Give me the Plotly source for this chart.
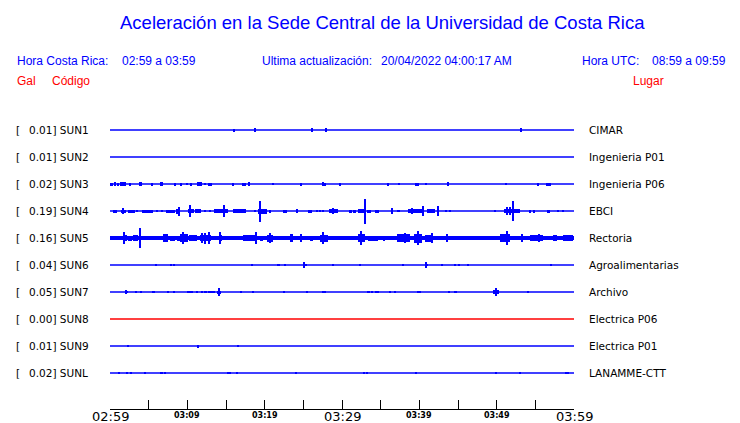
import plotly.graph_objects as go

# ---------------- data ----------------
STATIONS = ["SUN1", "SUN2", "SUN3", "SUN4", "SUN5", "SUN6", "SUN7", "SUN8", "SUN9", "SUNL"]
PEAK_GAL = ["0.01", "0.01", "0.02", "0.19", "0.16", "0.04", "0.05", "0.00", "0.01", "0.02"]
PLACES = ["CIMAR", "Ingenieria P01", "Ingenieria P06", "EBCI", "Rectoria",
          "Agroalimentarias", "Archivo", "Electrica P06", "Electrica P01", "LANAMME-CTT"]
WINDOW_MINUTES = 60
TICK_MINUTES = [0, 10, 20, 30, 40, 50, 60]
TICK_LABELS = ["02:59", "03:09", "03:19", "03:29", "03:39", "03:49", "03:59"]
MAJOR_LABELS = ["02:59", "03:29", "03:59"]
MINOR_TICK_STEP = 5

# Events per station: (start minute, end minute, half amplitude in trace units; 27 = trace spacing)
SUN1_EVENTS = [(16.07, 16.07, 1.5), (18.79, 18.79, 2), (26.16, 26.16, 2), (27.97, 27.97, 2),
               (53.19, 53.19, 2)]
SUN2_EVENTS = []
SUN3_EVENTS = [(0.13, 0.13, 1.5), (0.30, 0.30, 1.5), (0.62, 0.75, 1.7), (1.07, 1.07, 1.5),
               (1.29, 2.03, 1.7), (2.63, 2.63, 1.5), (3.75, 4.14, 1.7), (5.47, 5.47, 1.5),
               (6.47, 6.85, 1.7), (8.37, 8.37, 1.5), (9.22, 9.22, 1.5), (10.0, 10.0, 1),
               (10.51, 10.51, 1.5), (11.25, 11.64, 1.7), (11.77, 11.77, 2), (12.28, 12.28, 1.2),
               (12.84, 12.84, 1.5), (13.06, 13.06, 1.5), (15.94, 15.94, 1.5), (17.20, 17.20, 1.5),
               (17.46, 17.46, 1.5), (17.85, 18.10, 1.7), (20.95, 21.14, 1.2), (24.74, 24.74, 1.5),
               (27.41, 27.67, 1.7), (27.84, 27.84, 1.5), (29.78, 29.78, 1.5), (35.82, 36.08, 1.5),
               (37.41, 37.41, 1), (39.57, 39.57, 1.5), (39.83, 39.83, 1.5), (40.86, 40.86, 1.2),
               (43.64, 43.90, 1.7), (51.25, 51.25, 1), (55.31, 55.31, 1.5), (56.47, 56.47, 1.5),
               (56.73, 56.73, 1.5), (56.94, 56.94, 1.5)]
SUN4_EVENTS = [(0.35, 0.87, 1.5), (1.42, 2.07, 1.5), (1.72, 1.72, 3), (2.33, 3.23, 1.5),
               (3.45, 3.45, 1), (4.10, 5.52, 1.5), (6.12, 6.12, 1), (6.69, 6.69, 1),
               (7.20, 8.41, 1.5), (8.53, 9.05, 2.5), (8.88, 8.88, 4.5), (10.05, 10.86, 2),
               (10.34, 10.34, 6), (11.03, 11.77, 2), (12.28, 12.28, 1), (12.93, 12.93, 1),
               (13.49, 15.30, 2), (14.74, 14.74, 6), (15.94, 17.59, 1.7), (18.75, 18.75, 1),
               (19.10, 20.26, 2.5), (19.44, 19.44, 10.5), (20.69, 20.69, 1.5), (22.33, 22.93, 1.5),
               (24.22, 24.22, 2), (25.64, 26.08, 1.5), (26.73, 26.73, 1), (27.16, 27.16, 1),
               (27.50, 27.50, 1), (28.32, 29.52, 1.7), (28.84, 28.84, 3), (30.91, 31.25, 1.5),
               (31.46, 31.77, 1.5), (32.07, 32.84, 2), (33.01, 33.01, 12.5), (33.19, 33.71, 1.5),
               (34.27, 34.78, 1.5), (36.50, 36.50, 3), (37.15, 37.50, 1), (38.57, 40.31, 2),
               (39.01, 39.01, 3), (40.51, 40.51, 5), (41.03, 42.03, 2), (42.38, 42.38, 4.7),
               (43.45, 43.45, 1), (43.97, 43.97, 1), (49.82, 49.82, 1), (50.99, 53.02, 2),
               (51.30, 51.30, 4), (51.72, 51.72, 4), (52.15, 52.15, 10), (54.22, 54.44, 1.5),
               (54.70, 54.96, 1.5), (56.47, 56.90, 1.5), (57.97, 57.97, 1), (58.54, 58.54, 1)]
SUN5_EVENTS = [(0.0, 60.0, 1.6), (0.13, 0.65, 2.3), (1.64, 2.16, 3), (1.81, 1.81, 5.7),
               (2.37, 2.81, 2.5), (3.01, 3.66, 3), (3.92, 3.92, 10), (6.81, 7.54, 4),
               (7.76, 8.41, 2.5), (8.63, 9.05, 2.5), (9.05, 10.12, 4), (9.48, 9.48, 6),
               (10.25, 11.21, 3), (11.64, 13.06, 3), (11.86, 11.86, 5), (12.32, 12.32, 5.5),
               (12.84, 12.84, 5.7), (14.09, 14.48, 3), (14.22, 14.22, 6), (17.24, 18.97, 3),
               (18.84, 18.84, 6.3), (19.40, 19.78, 2.5), (20.30, 21.08, 3.5), (20.69, 20.69, 5),
               (23.28, 23.66, 4), (24.66, 24.66, 4), (25.86, 26.25, 2.5), (27.16, 28.19, 3.5),
               (27.50, 27.50, 6), (32.07, 32.97, 4), (32.46, 32.46, 7), (33.36, 34.69, 2.5),
               (35.34, 35.56, 2.5), (37.07, 38.79, 4), (38.15, 38.15, 5), (39.31, 40.31, 4.5),
               (39.79, 39.79, 6.7), (40.73, 41.81, 3.5), (41.60, 41.60, 5), (43.62, 43.62, 4.3),
               (50.43, 51.72, 4), (51.30, 51.30, 7), (53.28, 53.28, 4), (54.31, 55.99, 3),
               (55.51, 55.51, 4), (57.28, 57.76, 3), (58.58, 59.87, 3)]
SUN6_EVENTS = [(5.82, 6.04, 1.3), (7.93, 7.93, 1.2), (8.31, 8.31, 1.2), (18.40, 18.40, 1.2),
               (21.72, 21.94, 1.3), (22.67, 22.67, 1.2), (25.09, 25.44, 1.3), (25.15, 25.15, 3),
               (28.67, 28.93, 1.3), (32.20, 32.42, 1.3), (37.93, 37.93, 1), (40.86, 41.12, 1.3),
               (40.93, 40.93, 3), (42.97, 42.97, 1.2), (44.65, 44.65, 1.2), (45.04, 45.17, 1.3),
               (46.20, 46.46, 1.3), (56.90, 57.12, 1.3)]
SUN7_EVENTS = [(2.07, 2.29, 1.3), (2.07, 2.07, 1.8), (3.32, 3.32, 1), (4.05, 4.05, 1),
               (5.47, 5.82, 1.3), (7.54, 7.54, 0.8), (8.31, 8.31, 1), (10.05, 10.05, 0.8),
               (10.22, 10.44, 1.3), (10.51, 10.77, 1.3), (11.08, 11.42, 1.3), (11.86, 11.86, 1),
               (12.15, 12.50, 1.3), (12.63, 13.58, 1.3), (13.80, 14.31, 1.5), (14.06, 14.06, 3.7),
               (16.98, 16.98, 0.8), (18.53, 18.53, 1), (22.41, 22.67, 1.3), (25.38, 25.56, 1.3),
               (27.41, 27.89, 1.3), (33.36, 33.36, 1), (33.53, 33.53, 1), (33.71, 33.97, 1.3),
               (34.23, 34.49, 1.3), (34.69, 34.69, 0.8), (36.12, 36.30, 1.3), (36.89, 36.89, 0.8),
               (39.74, 40.18, 1.3), (43.87, 43.87, 1), (44.48, 44.83, 1.3), (49.53, 50.34, 2),
               (49.91, 49.91, 4), (54.09, 54.09, 0.8)]
SUN8_EVENTS = []
SUN9_EVENTS = [(2.37, 2.37, 1), (11.42, 11.42, 1.5), (16.59, 16.59, 1)]
SUNL_EVENTS = [(1.20, 1.20, 1), (2.24, 2.24, 1), (2.68, 2.68, 1), (4.56, 4.56, 1),
               (6.59, 6.81, 1.3), (7.15, 7.15, 1.2), (15.30, 15.30, 1.3), (15.56, 15.56, 1.3),
               (16.46, 16.46, 1), (24.09, 24.09, 1.2), (32.81, 32.81, 1), (33.27, 33.27, 1),
               (39.61, 39.61, 1), (49.95, 49.95, 1.2), (52.89, 53.11, 1.3), (58.93, 58.93, 1.2),
               (59.06, 59.32, 1.3)]

ALL_EVENTS = [SUN1_EVENTS, SUN2_EVENTS, SUN3_EVENTS, SUN4_EVENTS, SUN5_EVENTS,
              SUN6_EVENTS, SUN7_EVENTS, SUN8_EVENTS, SUN9_EVENTS, SUNL_EVENTS]

HEADER_ITEMS = [
    ("Hora Costa Rica:", "blue"), ("02:59 a 03:59", "blue"),
    ("Ultima actualización:", "blue"), ("20/04/2022 04:00:17 AM", "blue"),
    ("Hora UTC:", "blue"), ("08:59 a 09:59", "blue"),
    ("Gal", "red"), ("Código", "red"), ("Lugar", "red"),
]

# ---------------- styling / layout ----------------
BLUE = "#0000ff"
RED = "#ff0000"
TRACE_COLORS = [BLUE] * 7 + [RED] + [BLUE] * 2
AMP_UNIT = 1.0 / 27.0
MIN_WIDTH = 0.14
HDR_FONT = "Liberation Sans, Arial, sans-serif"
LBL_FONT = "DejaVu Sans, sans-serif"
W, H = 740, 423
ML, MR, MT, MB = 110, 166, 112, 14
PW, PH = W - ML - MR, H - MT - MB
HEADER_POS = [(15, 61), (120, 61), (260, 61), (379, 61), (580, 61), (650, 61),
              (15, 81), (50, 81), (631, 81)]

fig = go.Figure()

for i, (events, color) in enumerate(zip(ALL_EVENTS, TRACE_COLORS)):
    row = -i
    fig.add_trace(go.Scatter(x=[0, WINDOW_MINUTES], y=[row, row], mode="lines",
                             line=dict(color=color, width=1.3), hoverinfo="skip",
                             showlegend=False))
    if events:
        xs, ws, bases, hs = [], [], [], []
        for t0, t1, a in events:
            xs.append((t0 + t1) / 2)
            ws.append(max(t1 - t0, MIN_WIDTH))
            bases.append(row - a * AMP_UNIT)
            hs.append(2 * a * AMP_UNIT)
        fig.add_trace(go.Bar(x=xs, y=hs, base=bases, width=ws,
                             marker=dict(color=color, line=dict(width=0)),
                             hoverinfo="skip", showlegend=False))

annotations = []
for i, (st, g) in enumerate(zip(STATIONS, PEAK_GAL)):
    annotations.append(dict(x=0, xref="paper", xshift=-96, y=-i, yref="y", text="[",
                            showarrow=False, xanchor="left", yanchor="middle",
                            font=dict(family=LBL_FONT, size=10.5, color="black")))
    annotations.append(dict(x=0, xref="paper", xshift=-83, y=-i, yref="y",
                            text=f"{g}] {st}", showarrow=False, xanchor="left",
                            yanchor="middle",
                            font=dict(family=LBL_FONT, size=10.5, color="black")))
for i, place in enumerate(PLACES):
    annotations.append(dict(x=1, xref="paper", xshift=13, y=-i, yref="y", text=place,
                            showarrow=False, xanchor="left", yanchor="middle",
                            font=dict(family=LBL_FONT, size=10.5, color="black")))
for m, lab in zip(TICK_MINUTES, TICK_LABELS):
    major = lab in MAJOR_LABELS
    annotations.append(dict(x=m, xref="x", y=0, yref="paper", text=lab, showarrow=False,
                            xanchor="center", yanchor="middle",
                            yshift=-7 if major else -6.5,
                            font=dict(family=LBL_FONT, size=13 if major else 8,
                                      color="black",
                                      weight="normal" if major else "bold")))
for (text, c), (px, py) in zip(HEADER_ITEMS, HEADER_POS):
    annotations.append(dict(x=(px - ML) / PW, xref="paper", y=(H - MB - py) / PH,
                            yref="paper", text=text, showarrow=False,
                            xanchor="left", yanchor="middle",
                            font=dict(family=HDR_FONT, size=12,
                                      color=BLUE if c == "blue" else RED)))

fig.update_layout(
    width=W, height=H,
    margin=dict(l=ML, r=MR, t=MT, b=MB),
    paper_bgcolor="white", plot_bgcolor="white",
    barmode="overlay", bargap=0,
    showlegend=False,
    title=dict(text="Aceleración en la Sede Central de la Universidad de Costa Rica",
               x=120 / W, xref="container", xanchor="left",
               y=1 - 23 / H, yref="container", yanchor="middle",
               font=dict(family=HDR_FONT, size=18.5, color=BLUE)),
    xaxis=dict(range=[0, WINDOW_MINUTES], showgrid=False, zeroline=False,
               showline=True, linecolor="black", linewidth=1,
               ticks="inside", ticklen=9, tickwidth=1, tickcolor="black",
               tickmode="linear", tick0=0, dtick=MINOR_TICK_STEP,
               showticklabels=False, fixedrange=True),
    yaxis=dict(range=[-10 - 1 / 3, 2 / 3], visible=False, showgrid=False,
               zeroline=False, fixedrange=True),
    annotations=annotations,
)

fig.write_html("out.html",
               config={"displayModeBar": False},
               post_script="document.body.style.margin='0';"
                           "document.body.style.overflow='hidden';")
